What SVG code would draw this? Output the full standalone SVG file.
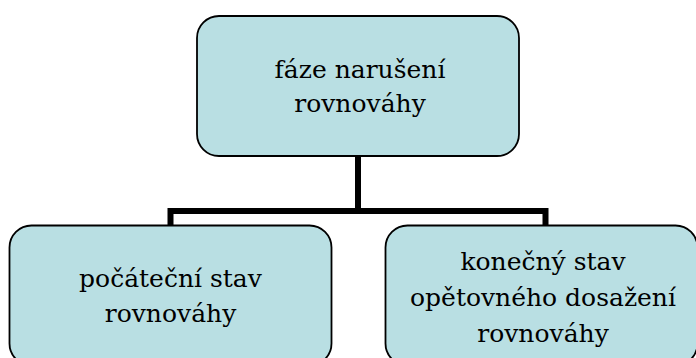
<svg xmlns="http://www.w3.org/2000/svg" width="696" height="358" viewBox="0 0 696 358">
<style>
.box{fill:#b9dfe3;stroke:#000;stroke-width:1.8}
.t{font-family:'DejaVu Serif',serif;font-size:25px;fill:#000;text-anchor:middle}
.c{fill:none;stroke:#000;stroke-width:6;stroke-linecap:butt;stroke-linejoin:miter}
</style>
<rect width="696" height="358" fill="#fff"/>
<g id="connectors">
<path class="c" d="M358 156 V211"/>
<path class="c" d="M170.5 225 V211 H545.5 V225"/>
</g>
<g id="node-top">
<rect class="box" x="197" y="16" width="322" height="140" rx="22"/>
<text class="t" x="360" y="78">fáze narušení</text>
<text class="t" x="360" y="112">rovnováhy</text>
</g>
<g id="node-left">
<rect class="box" x="9.5" y="225.5" width="322" height="140" rx="22"/>
<text class="t" x="170.5" y="287">počáteční stav</text>
<text class="t" x="170.5" y="322">rovnováhy</text>
</g>
<g id="node-right">
<rect class="box" x="385.5" y="225.5" width="312" height="140" rx="22"/>
<text class="t" x="543" y="270">konečný stav</text>
<text class="t" x="543" y="306">opětovného dosažení</text>
<text class="t" x="543" y="342">rovnováhy</text>
</g>
</svg>
